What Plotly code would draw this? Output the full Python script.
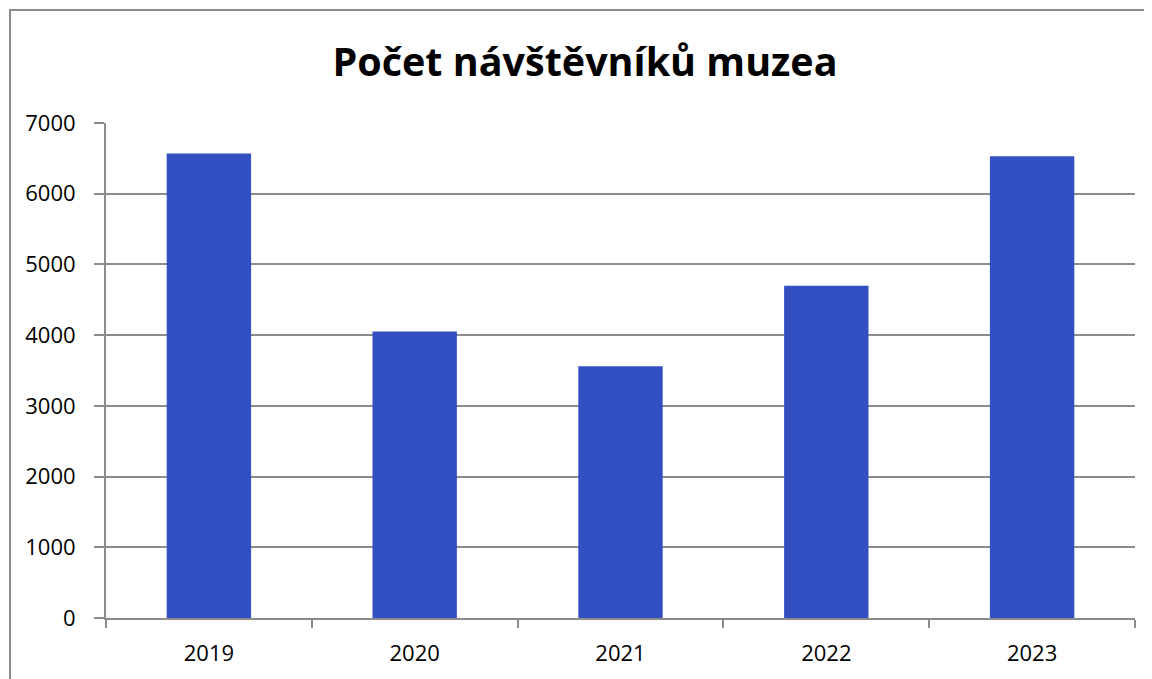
import plotly.graph_objects as go

years = ["2019", "2020", "2021", "2022", "2023"]
visitors = [6570, 4050, 3560, 4700, 6530]
y_ticks = [0, 1000, 2000, 3000, 4000, 5000, 6000, 7000]

# page body adds an 8px offset; lay out in figure coordinates accordingly
OFF = 8
W, H = 1152 - OFF, 679 - OFF
ml, mt = 106 - OFF, 123 - OFF
mr = W - (1135 - OFF)
mb = H - (618 - OFF)
pw, ph = W - ml - mr, H - mt - mb

def px_x(p):
    return (p - OFF - ml) / pw

def px_y(p):
    return (H - mb - (p - OFF)) / ph

fig = go.Figure()
fig.add_trace(go.Bar(
    x=years, y=visitors,
    width=0.41,
    marker=dict(color="#3350c2", line=dict(width=0)),
    hoverinfo="x+y",
))

fig.update_layout(
    width=W, height=H,
    margin=dict(l=ml, r=mr, t=mt, b=mb),
    paper_bgcolor="white", plot_bgcolor="white",
    showlegend=False,
    font=dict(family="Open Sans, Lato, sans-serif", color="black", size=22),
    title=dict(text="<b>Počet návštěvníků muzea</b>", x=(585 - OFF) / W, xanchor="center",
               y=1 - (62 - OFF) / H, yanchor="middle",
               font=dict(size=39.5, family="Open Sans, sans-serif", color="black")),
    xaxis=dict(
        showline=True, linecolor="#8c8c8c", linewidth=2,
        ticks="outside", tickson="boundaries", ticklen=8, tickcolor="#8c8c8c", tickwidth=2,
        showgrid=False, tickfont=dict(size=22), ticklabelstandoff=15,
    ),
    yaxis=dict(
        range=[0, 7000], tickvals=y_ticks, ticktext=[str(v) for v in y_ticks],
        showline=True, linecolor="#8c8c8c", linewidth=2,
        ticks="outside", ticklen=10, tickcolor="#8c8c8c", tickwidth=2,
        showgrid=True, gridcolor="#8c8c8c", gridwidth=1.5,
        zeroline=False, tickfont=dict(size=22), ticklabelstandoff=14,
    ),
    shapes=[dict(
        type="rect", xref="paper", yref="paper",
        x0=px_x(10), x1=px_x(1170), y0=px_y(700), y1=px_y(10),
        line=dict(color="#8c8c8c", width=2), fillcolor="rgba(0,0,0,0)", layer="below",
    )],
)

fig.write_html("out.html")
